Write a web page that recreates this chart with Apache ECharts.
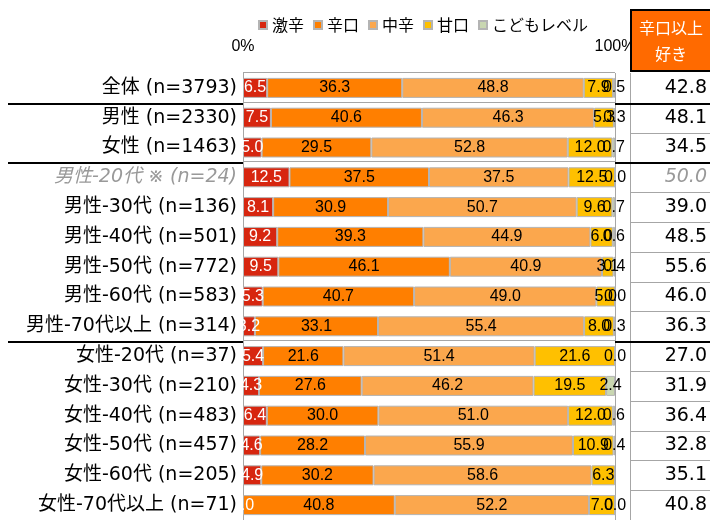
<!DOCTYPE html>
<html><head><meta charset="utf-8">
<script src="https://cdn.jsdelivr.net/npm/echarts@6/dist/echarts.min.js"></script>
<style>html,body{margin:0;padding:0;background:#fff}#c{width:710px;height:520px}</style>
</head><body><div id="c"></div>
<script>
const categories = ['全体 (n=3793)', '男性 (n=2330)', '女性 (n=1463)', '男性-20代 ※ (n=24)', '男性-30代 (n=136)', '男性-40代 (n=501)', '男性-50代 (n=772)', '男性-60代 (n=583)', '男性-70代以上 (n=314)', '女性-20代 (n=37)', '女性-30代 (n=210)', '女性-40代 (n=483)', '女性-50代 (n=457)', '女性-60代 (n=205)', '女性-70代以上 (n=71)'];
const seriesNames = ['激辛', '辛口', '中辛', '甘口', 'こどもレベル'];
const gekikara  = [6.5, 7.5, 5.0, 12.5, 8.1, 9.2, 9.5, 5.3, 3.2, 5.4, 4.3, 6.4, 4.6, 4.9, 0.0];
const karakuchi = [36.3, 40.6, 29.5, 37.5, 30.9, 39.3, 46.1, 40.7, 33.1, 21.6, 27.6, 30.0, 28.2, 30.2, 40.8];
const chukara   = [48.8, 46.3, 52.8, 37.5, 50.7, 44.9, 40.9, 49.0, 55.4, 51.4, 46.2, 51.0, 55.9, 58.6, 52.2];
const amakuchi  = [7.9, 5.3, 12.0, 12.5, 9.6, 6.0, 3.1, 5.0, 8.0, 21.6, 19.5, 12.0, 10.9, 6.3, 7.0];
const kodomo    = [0.5, 0.3, 0.7, 0.0, 0.7, 0.6, 0.4, 0.0, 0.3, 0.0, 2.4, 0.6, 0.4, null, 0.0];
const karakuchiIjo = [42.8, 48.1, 34.5, 50.0, 39.0, 48.5, 55.6, 46.0, 36.3, 27.0, 31.9, 36.4, 32.8, 35.1, 40.8];
const xTickLabels = ['0%', '100%'];
const headerText = '辛口以上\n好き';
const groupStarts = [0, 1, 3, 9];
const grayIndex = 3;

const colors = ['#D7260F', '#FF7F00', '#FBA74D', '#FFC000', '#C9D7B1'];
const labelColors = ['#fff', '#000', '#000', '#000', '#000'];
const labelFont = "'Liberation Sans', Arial, sans-serif";
const jpFont = "'DejaVu Sans', 'Noto Sans CJK JP', sans-serif";
const cjk = "'Noto Sans CJK JP', sans-serif";

const chart = echarts.init(document.getElementById('c'), null, {renderer: 'canvas'});
const dataSets = [gekikara, karakuchi, chukara, amakuchi, kodomo];

const series = dataSets.map((d, i) => ({
  name: seriesNames[i], type: 'bar', stack: 'total', data: d, barWidth: 20,
  xAxisIndex: 0, yAxisIndex: 0,
  itemStyle: {color: colors[i], borderColor: '#b4b4b4', borderWidth: 1},
  label: {show: true, position: 'inside', color: labelColors[i], fontSize: 16, fontFamily: labelFont,
    formatter: p => (p.value == null ? '' : Number(p.value).toFixed(1))},
  emphasis: {disabled: true}
}));

chart.setOption({
  animation: false,
  legend: {
    data: seriesNames, left: 258, top: 17, padding: 0, itemWidth: 8, itemHeight: 8, itemGap: 9,
    icon: 'rect', textStyle: {fontSize: 16, fontFamily: cjk, color: '#000'},
    selectedMode: false
  },
  grid: {left: 243, right: 94, top: 73, height: 448, containLabel: false},
  xAxis: {
    type: 'value', position: 'top', min: 0, max: 100, interval: 100,
    axisLine: {show: false}, axisTick: {show: false},
    axisLabel: {margin: 18, fontSize: 16, fontFamily: labelFont, color: '#000',
      formatter: (v) => (v === 0 ? xTickLabels[0] : xTickLabels[1])},
    splitLine: {show: true, lineStyle: {color: '#a6a6a6', width: 1}}
  },
  yAxis: [{
    type: 'category', data: categories, inverse: true, z: 100,
    axisLine: {show: false}, axisTick: {show: false},
    axisLabel: {margin: 6, fontSize: 19, fontFamily: jpFont, color: '#000',
      formatter: (v, i) => (i === grayIndex ? '{g|' + v + '}' : '{n|' + v + '}'),
      rich: {n: {fontSize: 19, fontFamily: jpFont, color: '#000'},
             g: {fontSize: 19, fontFamily: jpFont, color: '#999', fontStyle: 'italic'}}}
  }, {
    type: 'category', data: karakuchiIjo.map(v => v.toFixed(1)), inverse: true, position: 'right', z: 100,
    axisLine: {show: false}, axisTick: {show: false},
    axisLabel: {margin: 92, align: 'right', fontSize: 19, fontFamily: jpFont, color: '#000',
      formatter: (v, i) => (i === grayIndex ? '{g|' + v + '}' : '{n|' + v + '}'),
      rich: {n: {fontSize: 19, fontFamily: jpFont, color: '#000', align: 'right'},
             g: {fontSize: 19, fontFamily: jpFont, color: '#999', fontStyle: 'italic', align: 'right'}}}
  }],
  series: series
});

const yC = categories.map(c => chart.convertToPixel({yAxisIndex: 0}, c));
const band = yC[1] - yC[0];
const bounds = yC.map(y => y - band / 2);
bounds.push(yC[yC.length - 1] + band / 2);
const x0 = chart.convertToPixel({xAxisIndex: 0}, 0);
const x100 = chart.convertToPixel({xAxisIndex: 0}, 100);
const colL = 631;
const g = [];
g.push({type: 'rect', z: 50, silent: true, shape: {x: 0, y: bounds[0] + 1, width: Math.floor(x0), height: 520},
  style: {fill: '#fff'}});
for (let i = 1; i < categories.length; i++) {
  g.push({type: 'line', z: 55, silent: true,
    shape: {x1: colL, y1: Math.round(bounds[i]) + 0.5, x2: 710, y2: Math.round(bounds[i]) + 0.5},
    style: {stroke: '#a6a6a6', lineWidth: 1}});
}
g.push({type: 'line', z: 55, silent: true, shape: {x1: colL - 0.5, y1: bounds[0], x2: colL - 0.5, y2: 520},
  style: {stroke: '#a6a6a6', lineWidth: 1}});
groupStarts.forEach(i => {
  const y = Math.round(bounds[i]);
  if (i > 0) {
    g.push({type: 'line', z: 56, silent: true, shape: {x1: 8, y1: y + 1, x2: Math.round(x0), y2: y + 1},
      style: {stroke: '#000', lineWidth: 2}});
    g.push({type: 'line', z: 56, silent: true, shape: {x1: Math.round(x100), y1: y + 1, x2: 710, y2: y + 1},
      style: {stroke: '#000', lineWidth: 2}});
  }
  g.push({type: 'line', z: 56, silent: true, shape: {x1: Math.round(x0), y1: y - 0.5, x2: Math.round(x100), y2: y - 0.5},
    style: {stroke: '#a6a6a6', lineWidth: 1}});
});
g.push({type: 'rect', z: 60, silent: true, shape: {x: colL, y: 10, width: 82, height: Math.round(bounds[0]) - 12},
  style: {fill: '#FF6A00', stroke: '#000', lineWidth: 2}});
g.push({type: 'text', z: 61, silent: true, x: 671, y: 41,
  style: {text: headerText, fill: '#fff', font: '16px ' + cjk, align: 'center', verticalAlign: 'middle', lineHeight: 26}});
chart.setOption({graphic: g});
</script>
</body></html>
